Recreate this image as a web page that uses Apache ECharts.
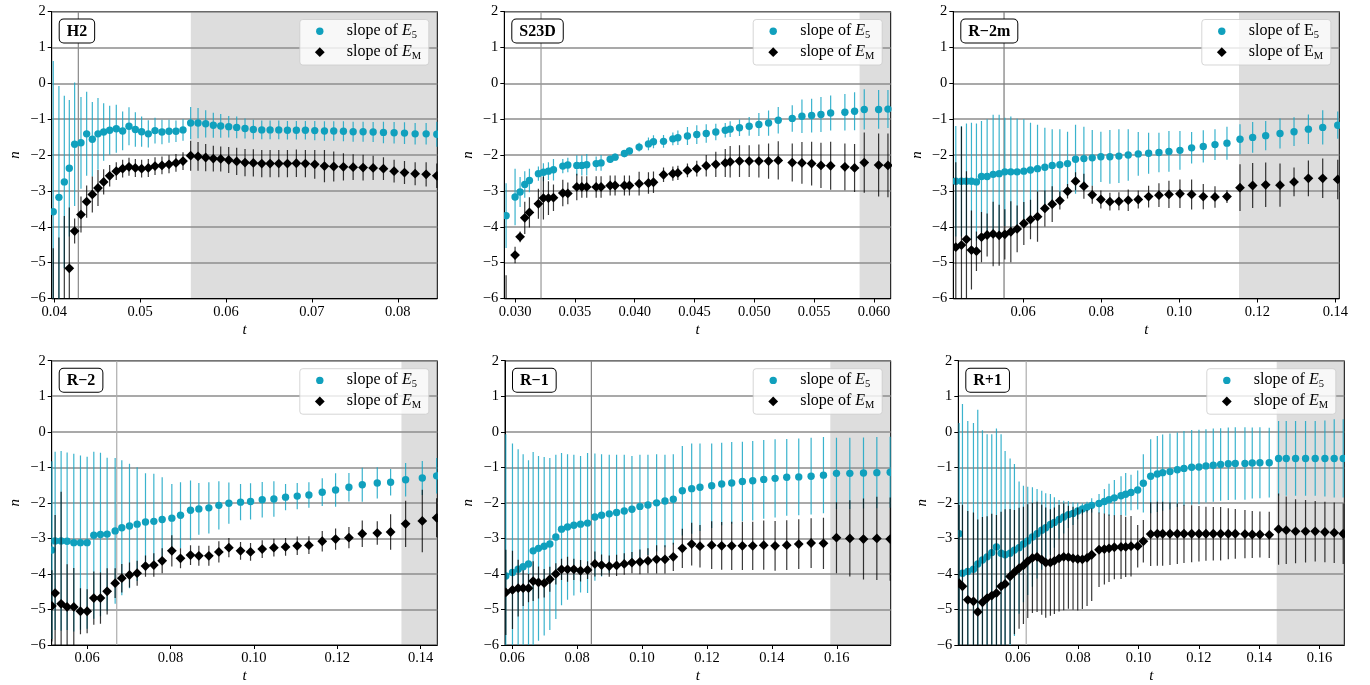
<!DOCTYPE html>
<html>
<head>
<meta charset="utf-8">
<script src="https://cdn.jsdelivr.net/npm/echarts@6/dist/echarts.min.js"></script>
<style>
  html, body { margin: 0; padding: 0; background: #fff; }
  #chart { width: 1370px; height: 685px; }
</style>
</head>
<body>
<div id="chart"></div>
<script>
// ---------------- data ----------------
const yTicks = [-6, -5, -4, -3, -2, -1, 0, 1, 2];

// H2
const h2_xTicks = [0.04, 0.05, 0.06, 0.07, 0.08];
const h2_t = [0.03988,0.04054,0.04117,0.04175,0.04237,0.04311,0.04377,0.04443,0.04509,0.04575,
  0.04645,0.04722,0.04796,0.04870,0.04944,0.05017,0.05095,0.05173,0.05254,0.05336,
  0.05417,0.05499,0.05588,0.05674,0.05763,0.05852,0.05938,0.06031,0.06124,0.06221,
  0.06318,0.06416,0.06513,0.06614,0.06715,0.06819,0.06924,0.07033,0.07146,0.07254,
  0.07367,0.07480,0.07596,0.07713,0.07833,0.07957,0.08078,0.08202,0.08330,0.08454];
const h2_e5 = [-3.58,-3.18,-2.75,-2.37,-1.70,-1.66,-1.41,-1.56,-1.41,-1.36,
  -1.31,-1.27,-1.33,-1.20,-1.29,-1.35,-1.41,-1.32,-1.36,-1.34,
  -1.34,-1.30,-1.11,-1.11,-1.13,-1.17,-1.19,-1.21,-1.23,-1.26,
  -1.29,-1.30,-1.30,-1.30,-1.31,-1.31,-1.31,-1.32,-1.33,-1.33,
  -1.34,-1.35,-1.35,-1.36,-1.37,-1.38,-1.39,-1.41,-1.41,-1.42];
const h2_e5Err = [4.2,3.1,2.4,1.9,1.72,1.28,1.17,1.04,1.0,0.8,
  0.68,0.67,0.54,0.53,0.48,0.42,0.38,0.36,0.34,0.32,
  0.3,0.3,0.45,0.42,0.38,0.35,0.33,0.3,0.3,0.28,
  0.27,0.26,0.26,0.26,0.26,0.26,0.26,0.27,0.27,0.27,
  0.28,0.28,0.28,0.28,0.3,0.3,0.3,0.3,0.3,0.35];
const h2_eM = [-7.0,-6.9,-6.6,-5.16,-4.12,-3.66,-3.30,-3.10,-2.92,-2.75,
  -2.58,-2.45,-2.38,-2.33,-2.36,-2.38,-2.36,-2.31,-2.29,-2.26,
  -2.22,-2.17,-2.02,-2.04,-2.07,-2.10,-2.11,-2.14,-2.18,-2.21,
  -2.22,-2.24,-2.24,-2.24,-2.24,-2.23,-2.24,-2.26,-2.31,-2.32,
  -2.33,-2.34,-2.35,-2.36,-2.38,-2.45,-2.49,-2.52,-2.54,-2.58];
const h2_eMErr = [2.4,2.6,2.9,1.7,0.35,0.5,0.45,0.5,0.5,0.35,
  0.3,0.25,0.25,0.25,0.25,0.25,0.25,0.25,0.25,0.25,
  0.25,0.25,0.42,0.4,0.38,0.36,0.35,0.36,0.38,0.38,
  0.38,0.38,0.38,0.38,0.38,0.38,0.38,0.4,0.45,0.42,
  0.38,0.36,0.36,0.34,0.32,0.32,0.32,0.32,0.34,0.34];

// S23D
const s23d_xTicks = [0.030, 0.035, 0.040, 0.045, 0.050, 0.055, 0.060];
const s23d_t = [0.02925,0.03000,0.03042,0.03081,0.03120,0.03195,0.03237,0.03279,0.03321,0.03399,
  0.03441,0.03516,0.03558,0.03599,0.03678,0.03719,0.03795,0.03836,0.03914,0.03956,
  0.04037,0.04115,0.04157,0.04241,0.04319,0.04361,0.04441,0.04519,0.04598,0.04678,
  0.04757,0.04798,0.04876,0.04957,0.05038,0.05119,0.05200,0.05317,0.05398,0.05479,
  0.05557,0.05638,0.05757,0.05838,0.05919,0.06039,0.06117];
const s23d_e5 = [-3.69,-3.17,-3.03,-2.82,-2.71,-2.52,-2.48,-2.45,-2.41,-2.31,
  -2.28,-2.29,-2.29,-2.27,-2.24,-2.22,-2.12,-2.06,-1.96,-1.89,
  -1.78,-1.69,-1.63,-1.62,-1.55,-1.52,-1.47,-1.43,-1.40,-1.36,
  -1.31,-1.28,-1.24,-1.20,-1.15,-1.11,-1.03,-0.98,-0.92,-0.90,
  -0.87,-0.83,-0.81,-0.78,-0.73,-0.73,-0.72];
const s23d_e5Err = [0.9,0.79,0.42,0.37,0.33,0.2,0.25,0.25,0.3,0.2,
  0.2,0.28,0.28,0.3,0.2,0.22,0.1,0.1,0.1,0.1,
  0.12,0.18,0.18,0.18,0.18,0.2,0.25,0.26,0.26,0.23,
  0.2,0.22,0.23,0.26,0.32,0.35,0.37,0.37,0.47,0.47,
  0.49,0.49,0.51,0.53,0.56,0.54,0.53];
const s23d_eM = [-7.0,-4.79,-4.28,-3.75,-3.60,-3.36,-3.20,-3.20,-3.19,-3.06,
  -3.07,-2.89,-2.89,-2.89,-2.89,-2.89,-2.85,-2.85,-2.85,-2.85,
  -2.80,-2.78,-2.76,-2.55,-2.52,-2.50,-2.43,-2.38,-2.30,-2.26,
  -2.22,-2.19,-2.17,-2.17,-2.17,-2.17,-2.15,-2.21,-2.22,-2.24,
  -2.29,-2.30,-2.33,-2.36,-2.21,-2.28,-2.29];
const s23d_eMErr = [1.65,0.23,0.15,0.45,0.42,0.42,0.6,0.47,0.37,0.37,
  0.3,0.37,0.3,0.3,0.3,0.3,0.28,0.28,0.28,0.28,
  0.33,0.3,0.3,0.2,0.2,0.2,0.19,0.22,0.3,0.35,
  0.39,0.44,0.44,0.44,0.46,0.49,0.53,0.53,0.58,0.61,
  0.63,0.67,0.65,0.67,0.84,0.88,0.89];

// R-2m
const r2m_xTicks = [0.06, 0.08, 0.10, 0.12, 0.14];
const r2m_t = [0.04274,0.04419,0.04547,0.04675,0.04803,0.04932,0.05077,0.05231,0.05385,0.05530,
  0.05684,0.05846,0.06017,0.06188,0.06368,0.06556,0.06744,0.06940,0.07137,0.07342,
  0.07556,0.07770,0.07991,0.08222,0.08453,0.08692,0.08949,0.09214,0.09479,0.09735,
  0.10017,0.10316,0.10615,0.10915,0.11222,0.11556,0.11880,0.12214,0.12581,0.12940,
  0.13308,0.13675,0.14060];
const r2m_e5 = [-2.73,-2.73,-2.73,-2.73,-2.75,-2.60,-2.60,-2.54,-2.52,-2.47,
  -2.47,-2.47,-2.45,-2.42,-2.38,-2.34,-2.29,-2.27,-2.24,-2.12,
  -2.10,-2.08,-2.05,-2.05,-2.03,-2.00,-1.97,-1.95,-1.93,-1.90,
  -1.87,-1.80,-1.76,-1.71,-1.67,-1.56,-1.51,-1.46,-1.40,-1.35,
  -1.28,-1.23,-1.17];
const r2m_e5Err = [1.54,1.54,1.61,1.63,1.63,1.55,1.6,1.66,1.64,1.51,
  1.54,1.48,1.45,1.32,1.22,1.10,1.01,0.99,0.89,0.96,
  0.89,0.78,0.70,0.75,0.75,0.72,0.61,0.57,0.55,0.57,
  0.54,0.44,0.45,0.43,0.46,0.42,0.43,0.41,0.42,0.40,
  0.41,0.48,0.38];
const r2m_eM = [-4.57,-4.51,-4.35,-4.65,-4.68,-4.29,-4.23,-4.20,-4.24,-4.21,
  -4.14,-4.06,-3.91,-3.80,-3.72,-3.49,-3.37,-3.27,-3.01,-2.73,
  -2.87,-3.11,-3.24,-3.30,-3.29,-3.26,-3.24,-3.16,-3.12,-3.10,
  -3.08,-3.10,-3.16,-3.17,-3.16,-2.91,-2.85,-2.83,-2.84,-2.75,
  -2.65,-2.65,-2.68];
const r2m_eMErr = [2.37,3.3,1.9,1.1,0.55,0.7,0.6,0.9,0.85,0.7,
  0.85,0.65,0.6,0.55,0.7,0.5,0.5,0.25,0.2,0.25,
  0.35,0.25,0.25,0.25,0.25,0.3,0.25,0.3,0.33,0.38,
  0.4,0.42,0.35,0.3,0.18,0.65,0.63,0.62,0.6,0.4,
  0.5,0.55,0.55];

// R-2
const r2_xTicks = [0.06, 0.08, 0.10, 0.12, 0.14];
const r2_t = [0.05155,0.05232,0.05376,0.05520,0.05680,0.05840,0.06000,0.06160,0.06320,0.06480,
  0.06672,0.06832,0.07016,0.07200,0.07400,0.07600,0.07800,0.08032,0.08240,0.08480,
  0.08680,0.08920,0.09160,0.09400,0.09680,0.09920,0.10200,0.10480,0.10760,0.11040,
  0.11320,0.11640,0.11960,0.12280,0.12600,0.12960,0.13280,0.13640,0.14040,0.14384];
const r2_e5 = [-3.33,-3.07,-3.07,-3.08,-3.12,-3.12,-3.12,-2.91,-2.89,-2.88,
  -2.79,-2.70,-2.65,-2.60,-2.54,-2.52,-2.47,-2.43,-2.35,-2.21,
  -2.17,-2.14,-2.07,-2.01,-1.98,-1.96,-1.91,-1.89,-1.84,-1.81,
  -1.78,-1.70,-1.64,-1.56,-1.49,-1.44,-1.42,-1.35,-1.30,-1.24];
const r2_e5Err = [2.5,2.51,2.53,2.5,2.5,2.45,2.42,2.35,2.3,2.15,
  2.05,1.9,1.75,1.6,1.37,1.34,1.19,0.96,0.93,0.84,
  0.73,0.72,0.68,0.58,0.51,0.51,0.50,0.50,0.37,0.37,
  0.36,0.39,0.47,0.40,0.48,0.44,0.37,0.47,0.48,0.5];
const r2_eM = [-4.9,-4.54,-4.84,-4.93,-4.93,-5.05,-5.05,-4.68,-4.68,-4.49,
  -4.26,-4.12,-4.03,-3.98,-3.78,-3.75,-3.63,-3.35,-3.56,-3.47,
  -3.49,-3.49,-3.38,-3.26,-3.35,-3.38,-3.30,-3.26,-3.24,-3.21,
  -3.19,-3.08,-3.02,-2.98,-2.87,-2.85,-2.82,-2.59,-2.51,-2.42];
const r2_eMErr = [1.0,2.2,3.15,1.2,1.1,0.65,0.62,0.75,0.72,0.65,
  0.42,0.4,0.35,0.35,0.3,0.33,0.35,0.44,0.28,0.28,
  0.28,0.28,0.3,0.27,0.25,0.25,0.25,0.25,0.25,0.26,
  0.25,0.29,0.3,0.3,0.37,0.33,0.5,0.65,0.88,0.55];

// R-1
const r1_xTicks = [0.06, 0.08, 0.10, 0.12, 0.14, 0.16];
const r1_t = [0.05805,0.06010,0.06185,0.06339,0.06504,0.06647,0.06812,0.06987,0.07161,0.07346,
  0.07521,0.07706,0.07901,0.08107,0.08323,0.08549,0.08754,0.08991,0.09217,0.09453,
  0.09690,0.09936,0.10183,0.10450,0.10707,0.10964,0.11242,0.11530,0.11786,0.12146,
  0.12454,0.12763,0.13092,0.13410,0.13749,0.14099,0.14458,0.14828,0.15209,0.15589,
  0.15990,0.16401,0.16822,0.17233,0.17644];
const r1_e5 = [-4.06,-3.96,-3.87,-3.80,-3.72,-3.35,-3.28,-3.22,-3.16,-2.96,
  -2.74,-2.68,-2.63,-2.60,-2.57,-2.40,-2.35,-2.31,-2.27,-2.23,
  -2.18,-2.10,-2.06,-2.00,-1.95,-1.90,-1.66,-1.60,-1.56,-1.52,
  -1.47,-1.44,-1.40,-1.38,-1.34,-1.31,-1.28,-1.27,-1.25,-1.22,
  -1.17,-1.17,-1.16,-1.15,-1.14];
const r1_e5Err = [3.99,3.63,3.38,3.17,2.92,2.78,2.6,2.51,2.42,2.31,
  2.14,2.05,1.98,1.92,1.97,1.79,1.72,1.66,1.62,1.58,
  1.50,1.45,1.41,1.37,1.30,1.27,1.26,1.27,1.23,1.19,
  1.16,1.15,1.12,1.12,1.11,1.10,1.08,1.08,1.08,1.07,
  1.0,1.0,1.0,1.0,1.0];
const r1_eM = [-4.52,-4.45,-4.40,-4.40,-4.40,-4.20,-4.24,-4.26,-4.15,-4.00,
  -3.87,-3.87,-3.87,-3.91,-3.89,-3.72,-3.75,-3.78,-3.76,-3.72,
  -3.68,-3.66,-3.63,-3.59,-3.59,-3.52,-3.28,-3.16,-3.22,-3.19,
  -3.21,-3.21,-3.21,-3.21,-3.19,-3.21,-3.19,-3.16,-3.13,-3.14,
  -2.98,-3.00,-3.02,-3.00,-3.02];
const r1_eMErr = [1.2,1.1,0.8,0.5,0.4,0.56,0.45,0.4,0.35,0.3,
  0.3,0.35,0.3,0.3,0.25,0.35,0.3,0.3,0.3,0.3,
  0.3,0.35,0.35,0.4,0.4,0.4,0.55,0.6,0.6,0.67,
  0.67,0.68,0.68,0.68,0.69,0.7,0.7,0.7,0.7,0.72,
  1.0,1.07,1.14,1.17,1.17];

// R+1
const rp1_xTicks = [0.06, 0.08, 0.10, 0.12, 0.14, 0.16];
const rp1_t = [0.04057,0.04168,0.04344,0.04532,0.04675,0.04830,0.04985,0.05139,0.05294,0.05448,
  0.05581,0.05746,0.05890,0.06044,0.06188,0.06331,0.06486,0.06640,0.06795,0.06927,
  0.07082,0.07214,0.07369,0.07523,0.07678,0.07832,0.07987,0.08141,0.08296,0.08450,
  0.08693,0.08870,0.09024,0.09201,0.09422,0.09576,0.09753,0.09974,0.10161,0.10404,
  0.10625,0.10801,0.11044,0.11287,0.11508,0.11762,0.12004,0.12236,0.12479,0.12722,
  0.12976,0.13208,0.13528,0.13770,0.14024,0.14333,0.14642,0.14896,0.15205,0.15536,
  0.15856,0.16177,0.16486,0.16784];
const rp1_e5 = [-2.87,-3.98,-3.93,-3.87,-3.72,-3.61,-3.52,-3.40,-3.24,-3.42,
  -3.46,-3.42,-3.33,-3.26,-3.16,-3.07,-2.96,-2.87,-2.77,-2.70,
  -2.61,-2.55,-2.47,-2.40,-2.33,-2.30,-2.23,-2.17,-2.12,-2.07,
  -2.02,-1.96,-1.91,-1.86,-1.80,-1.76,-1.71,-1.64,-1.45,-1.25,
  -1.19,-1.15,-1.12,-1.07,-1.03,-1.00,-0.99,-0.96,-0.94,-0.92,
  -0.90,-0.89,-0.89,-0.88,-0.87,-0.87,-0.75,-0.75,-0.75,-0.75,
  -0.75,-0.75,-0.75,-0.75];
const rp1_e5Err = [3.12,4.76,4.23,4.12,4.34,3.65,3.45,3.33,3.33,3.35,
  2.92,2.67,2.42,1.86,1.64,1.52,1.4,1.26,1.11,0.97,
  0.86,0.71,0.55,0.46,0.38,0.32,0.23,0.16,0.15,0.2,
  0.27,0.35,0.45,0.5,0.55,0.6,0.5,0.55,0.82,1.04,
  1.07,1.07,1.07,1.05,1.05,1.05,1.05,1.03,1.03,1.02,
  1.02,1.02,1.02,1.0,1.0,0.98,1.05,1.05,1.05,1.05,
  1.05,1.07,1.1,1.1];
const rp1_eM = [-4.26,-4.35,-4.73,-4.77,-5.07,-4.80,-4.68,-4.61,-4.54,-4.35,
  -4.28,-4.07,-3.95,-3.84,-3.76,-3.64,-3.55,-3.52,-3.60,-3.68,
  -3.68,-3.63,-3.56,-3.52,-3.53,-3.56,-3.58,-3.59,-3.55,-3.46,
  -3.32,-3.30,-3.28,-3.25,-3.24,-3.24,-3.22,-3.22,-3.08,-2.88,
  -2.87,-2.87,-2.87,-2.87,-2.87,-2.87,-2.87,-2.87,-2.87,-2.87,
  -2.87,-2.87,-2.88,-2.89,-2.89,-2.90,-2.74,-2.77,-2.80,-2.80,
  -2.80,-2.82,-2.84,-2.87];
const rp1_eMErr = [2.2,2.3,2.5,2.5,2.6,2.4,2.3,2.3,2.2,2.1,
  2.1,1.9,1.75,1.7,1.65,1.6,1.55,1.55,1.55,1.55,
  1.5,1.5,1.5,1.5,1.45,1.45,1.45,1.4,1.35,1.3,
  1.05,1.0,0.95,0.9,0.9,0.85,0.85,0.6,0.6,0.9,
  0.9,0.9,0.88,0.85,0.82,0.8,0.78,0.76,0.75,0.75,
  0.72,0.7,0.68,0.66,0.65,0.65,1.0,0.95,0.9,0.88,
  0.85,0.85,0.85,0.85];

// ---------------- layout ----------------
const SERIF = "'Liberation Serif', 'DejaVu Serif', serif";
const TEAL = '#10a0bd';
const TEAL_BAR = 'rgba(25,166,196,0.85)';
const BLACK_BAR = 'rgba(0,0,0,0.78)';

const panels = [
  { label: 'H2',   t: h2_t,   e5: h2_e5,   e5Err: h2_e5Err,   eM: h2_eM,   eMErr: h2_eMErr,   ticks: h2_xTicks,   dec: 2,
    xMin: 0.0397, xMax: 0.0846, shade: 0.0559, vline: 0.0428, vColor: '#888', upright: false,
    box: [51.7, 11.5, 385.6, 287] },
  { label: 'S23D', t: s23d_t, e5: s23d_e5, e5Err: s23d_e5Err, eM: s23d_eM, eMErr: s23d_eMErr, ticks: s23d_xTicks, dec: 3,
    xMin: 0.0291, xMax: 0.0614, shade: 0.0588, vline: 0.03217, vColor: '#999', upright: false,
    box: [504.3, 11.5, 386.4, 287] },
  { label: 'R\u22122m', t: r2m_t, e5: r2m_e5, e5Err: r2m_e5Err, eM: r2m_eM, eMErr: r2m_eMErr, ticks: r2m_xTicks, dec: 2,
    xMin: 0.0421, xMax: 0.1410, shade: 0.1153, vline: 0.0551, vColor: '#7a7a7a', upright: true,
    box: [953.3, 11.5, 386, 287] },
  { label: 'R\u22122', t: r2_t, e5: r2_e5, e5Err: r2_e5Err, eM: r2_eM, eMErr: r2_eMErr, ticks: r2_xTicks, dec: 2,
    xMin: 0.0515, xMax: 0.1440, shade: 0.1354, vline: 0.0671, vColor: '#adadad', upright: false,
    box: [51.7, 360.7, 385.6, 286.6] },
  { label: 'R\u22121', t: r1_t, e5: r1_e5, e5Err: r1_e5Err, eM: r1_eM, eMErr: r1_eMErr, ticks: r1_xTicks, dec: 2,
    xMin: 0.0578, xMax: 0.1766, shade: 0.1580, vline: 0.0844, vColor: '#808080', upright: false,
    box: [505, 360.7, 385.7, 286.6] },
  { label: 'R+1', t: rp1_t, e5: rp1_e5, e5Err: rp1_e5Err, eM: rp1_eM, eMErr: rp1_eMErr, ticks: rp1_xTicks, dec: 2,
    xMin: 0.0403, xMax: 0.1682, shade: 0.1458, vline: 0.0628, vColor: '#adadad', upright: false,
    box: [958.3, 360.7, 386, 286.6] }
];

function minusFmt(v) { return v < 0 ? '\u2212' + (-v) : String(v); }

// error bar + marker renderer
function errRender(kind) {
  return function (params, api) {
    const x = api.value(0), y = api.value(1), e = api.value(2);
    const p = api.coord([x, y]);
    const hi = api.coord([x, y + e]);
    const lo = api.coord([x, y - e]);
    const kids = [{
      type: 'line',
      shape: { x1: p[0], y1: hi[1], x2: p[0], y2: lo[1] },
      style: { stroke: kind === 'circle' ? TEAL_BAR : BLACK_BAR, lineWidth: 1.2 }
    }];
    if (kind === 'circle') {
      kids.push({ type: 'circle', shape: { cx: p[0], cy: p[1], r: 3.7 }, style: { fill: TEAL } });
    } else {
      const s = 4.9;
      kids.push({ type: 'polygon',
        shape: { points: [[p[0], p[1] - s], [p[0] + s, p[1]], [p[0], p[1] + s], [p[0] - s, p[1]]] },
        style: { fill: '#000' } });
    }
    return { type: 'group', children: kids };
  };
}

const grid = [], xAxis = [], yAxis = [], series = [], graphic = [];

panels.forEach(function (p, i) {
  const [L, T, W, H] = p.box;
  grid.push({ left: L, top: T, width: W, height: H, show: true, borderColor: '#000', borderWidth: 1 });
  xAxis.push({
    gridIndex: i, type: 'value', min: p.xMin, max: p.xMax,
    name: 't', nameLocation: 'middle', nameGap: 24,
    nameTextStyle: { fontFamily: SERIF, fontStyle: 'italic', fontSize: 15, color: '#000' },
    axisLine: { onZero: false, lineStyle: { color: '#000', width: 1 } },
    axisTick: { customValues: p.ticks, length: 4, lineStyle: { color: '#000', width: 1 } },
    axisLabel: { customValues: p.ticks, formatter: function (v) { return v.toFixed(p.dec); },
      fontFamily: SERIF, fontSize: 14.5, color: '#000', margin: 6 },
    splitLine: { show: false }
  });
  yAxis.push({
    gridIndex: i, type: 'value', min: yTicks[0], max: yTicks[yTicks.length - 1], interval: 1,
    name: 'n', nameLocation: 'middle', nameGap: 29, nameRotate: 90,
    nameTextStyle: { fontFamily: SERIF, fontStyle: 'italic', fontSize: 15, color: '#000' },
    axisLine: { lineStyle: { color: '#000', width: 1 } },
    axisTick: { length: 4, lineStyle: { color: '#000', width: 1 } },
    axisLabel: { formatter: minusFmt, fontFamily: SERIF, fontSize: 14.5, color: '#000', margin: 6 },
    splitLine: { show: true, lineStyle: { color: '#8c8c8c', width: 1.5 } }
  });

  // shaded late-time interval
  series.push({
    type: 'custom', xAxisIndex: i, yAxisIndex: i, z: -1, clip: true, silent: true,
    data: [[p.shade, p.xMax]],
    renderItem: function (params, api) {
      const a = api.coord([api.value(0), yTicks[yTicks.length - 1]]);
      const b = api.coord([api.value(1), yTicks[0]]);
      return { type: 'rect', shape: { x: a[0], y: a[1], width: b[0] - a[0], height: b[1] - a[1] },
        style: { fill: '#dddddd' } };
    }
  });
  // vertical marker
  series.push({
    type: 'custom', xAxisIndex: i, yAxisIndex: i, z: 1, clip: true, silent: true,
    data: [[p.vline, 0]],
    renderItem: function (params, api) {
      const a = api.coord([api.value(0), yTicks[yTicks.length - 1]]);
      const b = api.coord([api.value(0), yTicks[0]]);
      return { type: 'line', shape: { x1: a[0], y1: a[1], x2: b[0], y2: b[1] },
        style: { stroke: p.vColor, lineWidth: 1.2 } };
    }
  });
  // slope of E5
  series.push({
    name: 'slope of E5', type: 'custom', xAxisIndex: i, yAxisIndex: i, z: 3, clip: true,
    encode: { x: 0, y: 1 },
    data: p.t.map(function (t, k) { return [t, p.e5[k], p.e5Err[k]]; }),
    renderItem: errRender('circle')
  });
  // slope of EM
  series.push({
    name: 'slope of EM', type: 'custom', xAxisIndex: i, yAxisIndex: i, z: 4, clip: true,
    encode: { x: 0, y: 1 },
    data: p.t.map(function (t, k) { return [t, p.eM[k], p.eMErr[k]]; }),
    renderItem: errRender('diamond')
  });

  // panel tag
  graphic.push({
    type: 'text', x: L + 8, y: T + 8, z: 10,
    style: {
      text: p.label, fontFamily: SERIF, fontWeight: 'bold', fontSize: 16, fill: '#000',
      backgroundColor: '#fff', borderColor: '#000', borderWidth: 1, borderRadius: 4,
      padding: [4, 7, 3, 7]
    }
  });

  // legend
  const lx = L + W - 137.5, ly = T + 8;
  const eStyle = p.upright ? 'normal' : 'italic';
  const rich = {
    a: { fontFamily: SERIF, fontSize: 16, lineHeight: 20, verticalAlign: 'middle', fill: '#000' },
    e: { fontFamily: SERIF, fontSize: 16, fontStyle: eStyle, lineHeight: 20, verticalAlign: 'middle', fill: '#000' },
    s: { fontFamily: SERIF, fontSize: 10.5, lineHeight: 10, verticalAlign: 'bottom', fill: '#000' }
  };
  graphic.push({
    type: 'rect', z: 10, shape: { x: lx, y: ly, width: 129, height: 45.5, r: 3 },
    style: { fill: 'rgba(255,255,255,0.8)', stroke: 'rgba(204,204,204,0.8)', lineWidth: 1 }
  });
  graphic.push({ type: 'circle', z: 11, shape: { cx: lx + 20, cy: ly + 11.7, r: 3.7 }, style: { fill: TEAL } });
  graphic.push({ type: 'polygon', z: 11,
    shape: { points: [[lx + 20, ly + 27.8], [lx + 24.9, ly + 32.7], [lx + 20, ly + 37.6], [lx + 15.1, ly + 32.7]] },
    style: { fill: '#000' } });
  graphic.push({ type: 'text', z: 11, x: lx + 47, y: ly + 11.2,
    style: { text: '{a|slope of }{e|E}{s|5}', rich: rich, verticalAlign: 'middle' } });
  graphic.push({ type: 'text', z: 11, x: lx + 47, y: ly + 32.2,
    style: { text: '{a|slope of }{e|E}{s|M}', rich: rich, verticalAlign: 'middle' } });
});

const chart = echarts.init(document.getElementById('chart'), null, { renderer: 'canvas' });
chart.setOption({
  animation: false,
  backgroundColor: '#fff',
  grid: grid, xAxis: xAxis, yAxis: yAxis, series: series, graphic: graphic
});
</script>
</body>
</html>
